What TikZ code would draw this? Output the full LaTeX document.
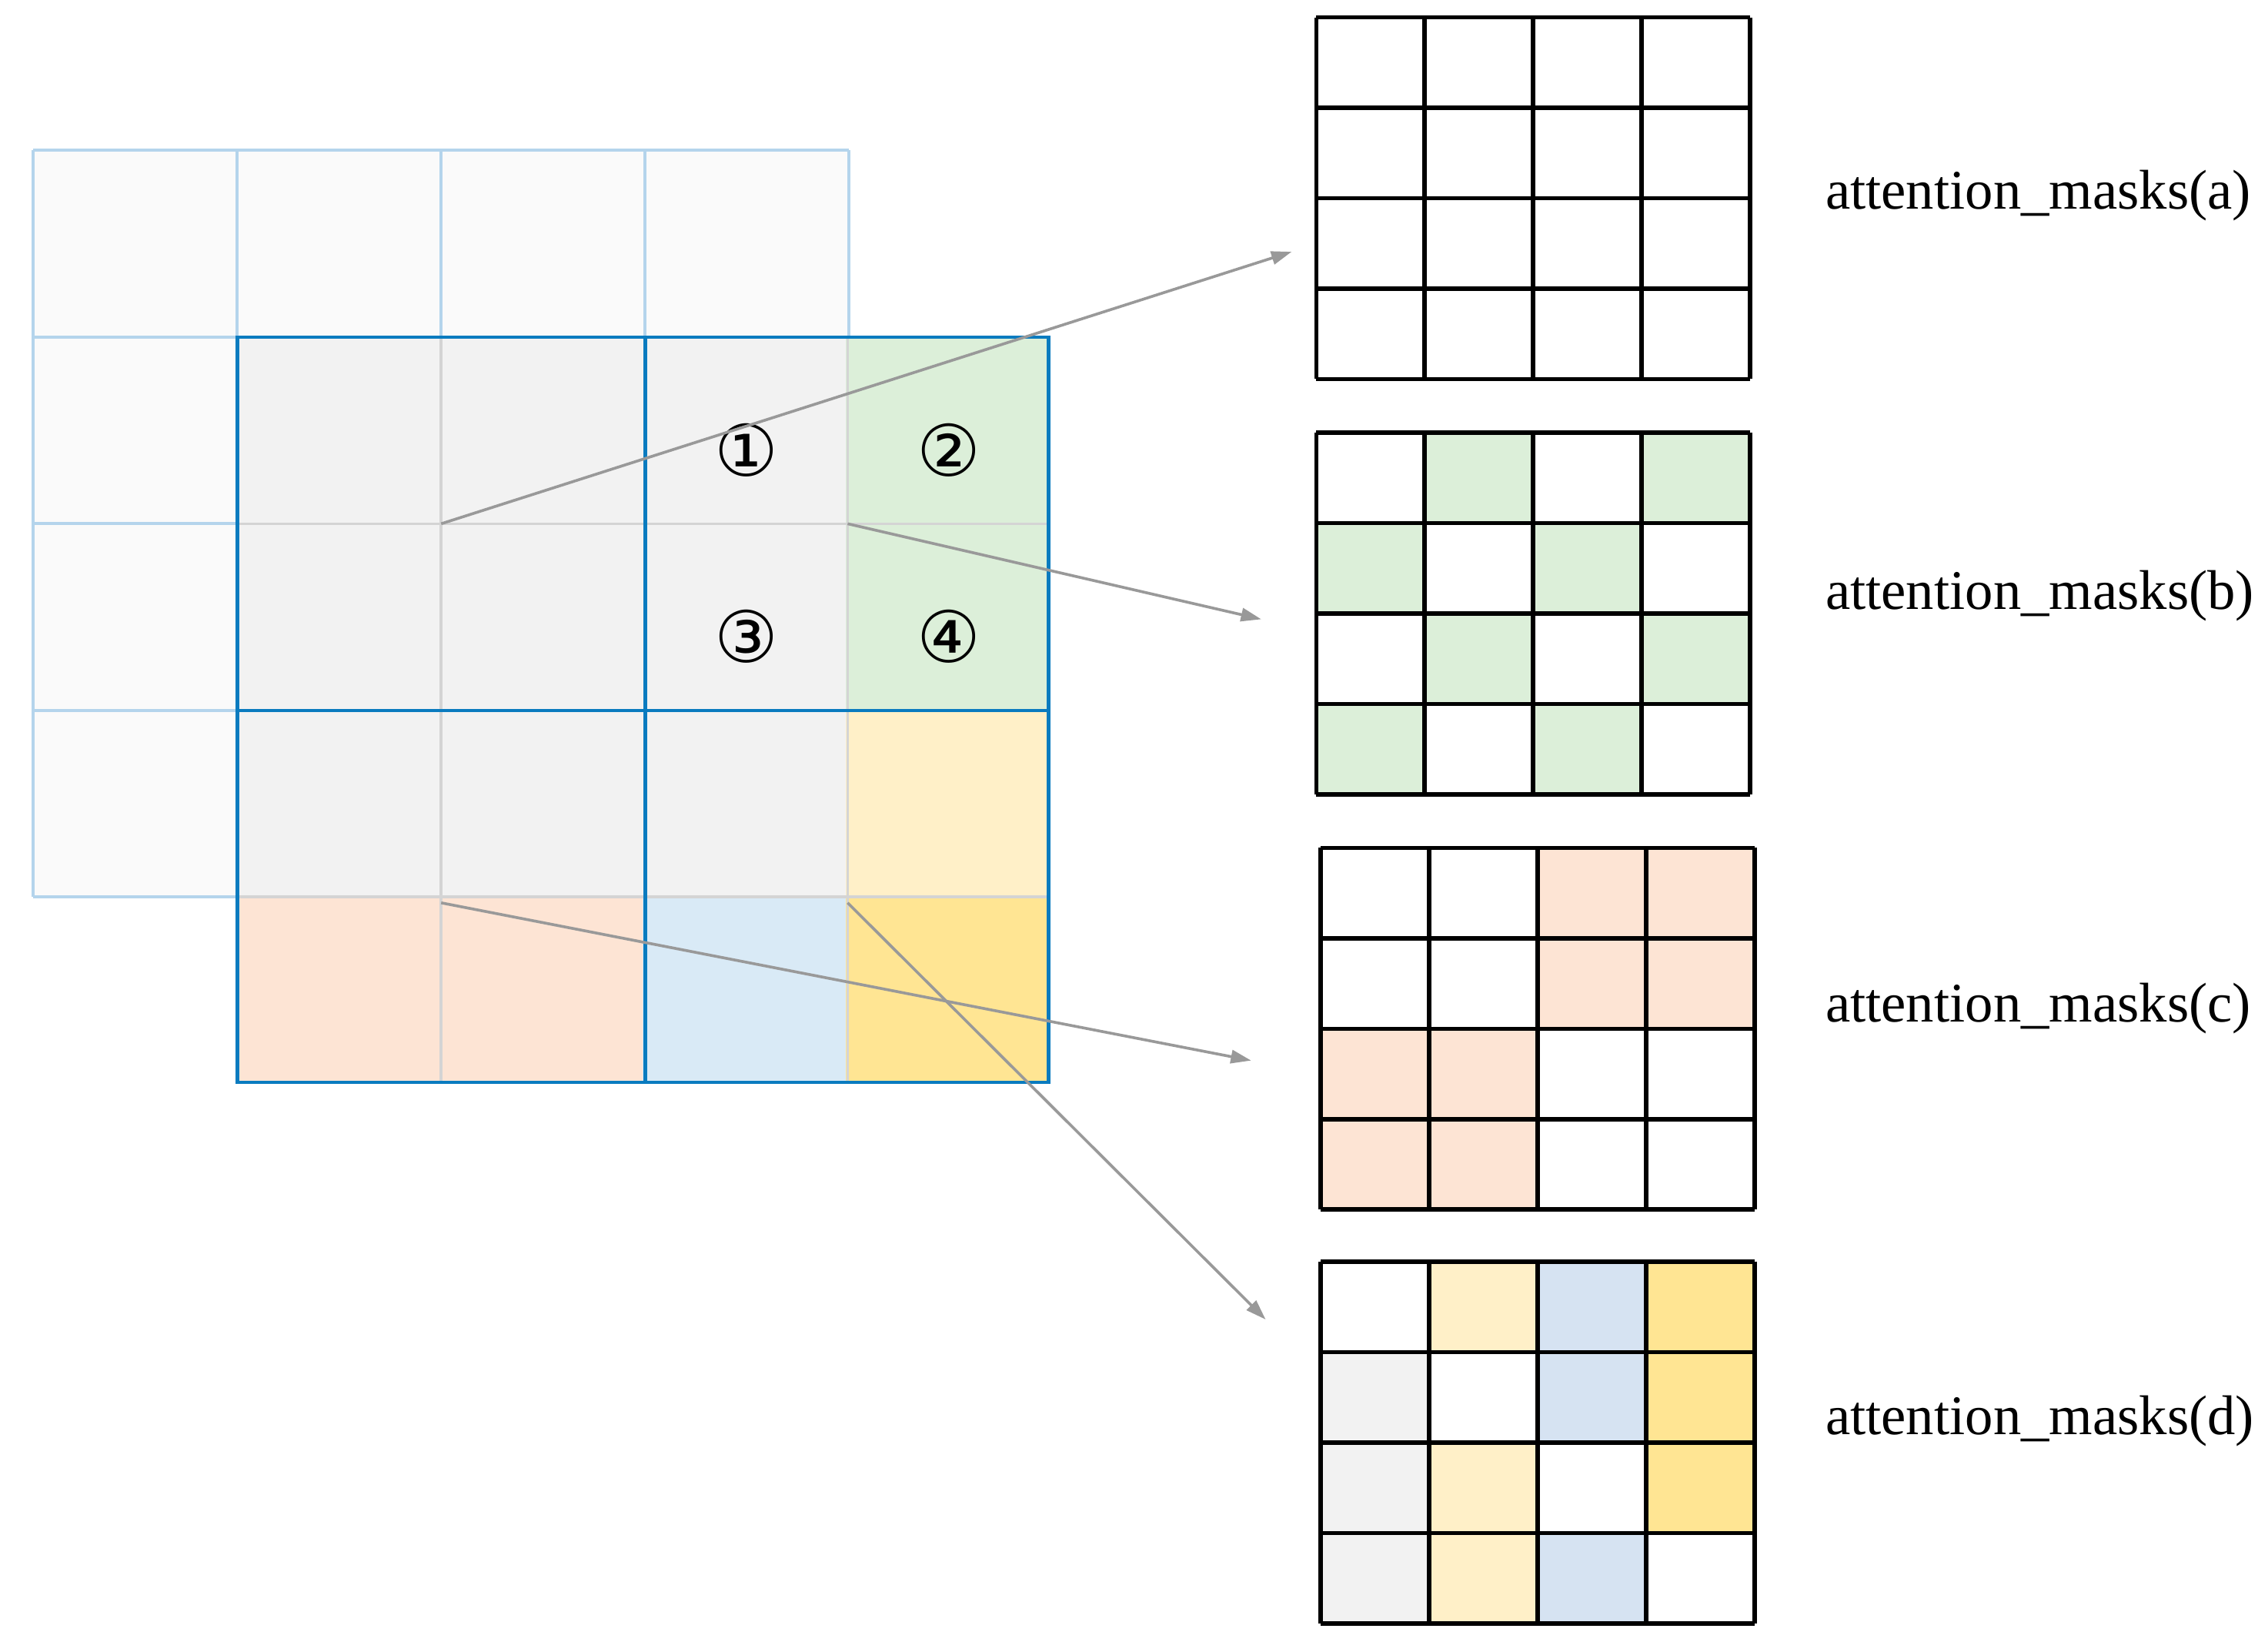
\documentclass[tikz,border=0pt]{standalone}
\usepackage{fontspec}
\setmainfont{Liberation Serif}
\newfontfamily\circfont{DejaVu Sans}
\usetikzlibrary{arrows.meta}
\definecolor{fadef}{HTML}{FAFAFA}
\definecolor{fades}{HTML}{B4D4EC}
\definecolor{cgray}{HTML}{F2F2F2}
\definecolor{cgreen}{HTML}{DCEFD9}
\definecolor{cyl}{HTML}{FFF0C8}
\definecolor{cyd}{HTML}{FFE593}
\definecolor{cpeach}{HTML}{FDE4D4}
\definecolor{cblue}{HTML}{D9EAF6}
\definecolor{cblue2}{HTML}{D6E3F2}
\definecolor{bline}{HTML}{0A7BBF}
\definecolor{gline}{HTML}{D4D4D4}
\definecolor{arr}{HTML}{999999}
\begin{document}
\begin{tikzpicture}[x=0.1cm,y=-0.1cm,
  lbl/.style={font=\fontsize{110}{120}\selectfont, anchor=west, inner sep=0},
  circ/.style={font=\circfont\fontsize{140}{150}\selectfont, inner sep=0},
  con/.style={draw=arr, line width=5.5pt, -{Triangle[length=40pt,width=26pt]}},
  mk/.style={draw=black, line width=8.5pt}]
\useasboundingbox (0,0) rectangle (1568,1141.3);
% faded grid
\fill[fadef] (23,104) rectangle (587,620);
\foreach \k in {0,...,4} {
  \draw[fades, line width=6pt] ({23+141*\k},104)--({23+141*\k},620);
  \draw[fades, line width=6pt] (23,{104+129*\k})--(587,{104+129*\k});}
% main grid fills
\newcommand{\mc}[3]{\fill[#3] ({164+140.25*(#1-1)},{233+128.75*(#2-1)}) rectangle ++(140.25,128.75);}
\foreach \i in {1,2,3} \foreach \j in {1,2,3} {\mc{\i}{\j}{cgray}}
\mc{4}{1}{cgreen}\mc{4}{2}{cgreen}\mc{4}{3}{cyl}
\mc{1}{4}{cpeach}\mc{2}{4}{cpeach}\mc{3}{4}{cblue}\mc{4}{4}{cyd}
\draw[gline, line width=5.5pt] (305,233)--(305,748) (586,233)--(586,748) (164,362)--(725,362) (164,620)--(725,620);
\draw[bline, line width=7pt] (164,233) rectangle (725,748) (446,233)--(446,748) (164,491)--(725,491);
\node[circ] (n1) at (516,311) {①};
\node[circ] (n2) at (656,311) {②};
\node[circ] (n3) at (516,440) {③};
\node[circ] (n4) at (656,440) {④};
% mask grids
\newcommand{\mg}[4]{% x0,y0,name,fills
  \foreach \c/\r/\col in {#4} {\fill[\col] ({#1+75*(\c-1)},{#2+62.5*(\r-1)}) rectangle ++(75,62.5);}
  \foreach \k in {0,...,4} {
    \draw[mk] ({#1+75*\k},#2)--({#1+75*\k},{#2+250});
    \draw[mk] (#1,{#2+62.5*\k})--({#1+300},{#2+62.5*\k});}
  \coordinate (#3) at (#1,{#2+125});}
\mg{910}{12}{ga}{}
\mg{910}{299}{gb}{2/1/cgreen,4/1/cgreen,1/2/cgreen,3/2/cgreen,2/3/cgreen,4/3/cgreen,1/4/cgreen,3/4/cgreen}
\mg{913}{586}{gc}{3/1/cpeach,4/1/cpeach,3/2/cpeach,4/2/cpeach,1/3/cpeach,2/3/cpeach,1/4/cpeach,2/4/cpeach}
\mg{913}{872}{gd}{2/1/cyl,3/1/cblue2,4/1/cyd,1/2/cgray,3/2/cblue2,4/2/cyd,1/3/cgray,2/3/cyl,4/3/cyd,1/4/cgray,2/4/cyl,3/4/cblue2}
\node[lbl] (la) at (1262,135) {attention\_masks(a)};
\node[lbl] (lb) at (1262,412) {attention\_masks(b)};
\node[lbl] (lc) at (1262,697) {attention\_masks(c)};
\node[lbl] (ld) at (1262,982) {attention\_masks(d)};
% arrows
\coordinate (s1) at (305,362); \coordinate (e1) at (893,174);
\coordinate (s2) at (586,362); \coordinate (e2) at (872,428);
\coordinate (s3) at (305,624); \coordinate (e3) at (865,733);
\coordinate (s4) at (586,624); \coordinate (e4) at (875,912);
\draw[con] (s1)--(e1);
\draw[con] (s2)--(e2);
\draw[con] (s3)--(e3);
\draw[con] (s4)--(e4);
\end{tikzpicture}
\end{document}
